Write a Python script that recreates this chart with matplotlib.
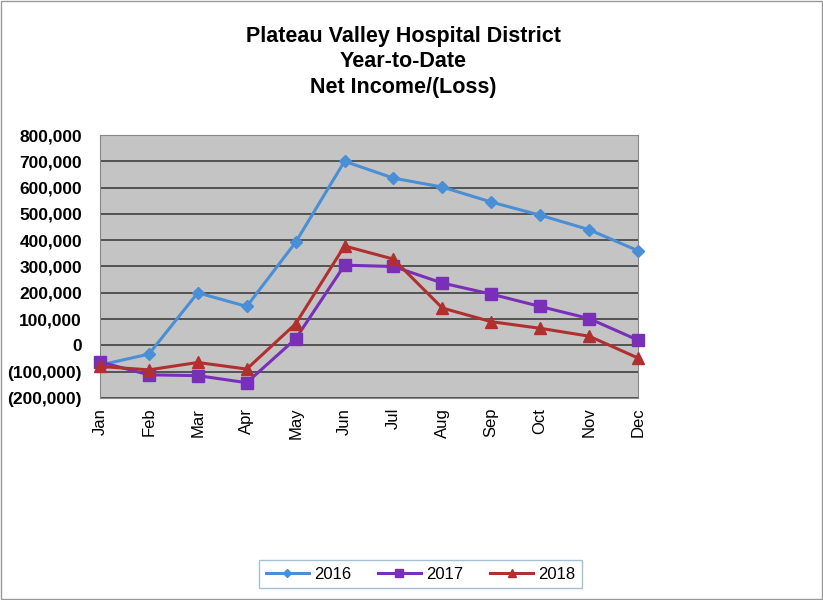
import matplotlib
matplotlib.use("Agg")
import matplotlib.pyplot as plt
from matplotlib.ticker import FuncFormatter

plt.rcParams["font.family"] = ["Liberation Sans", "DejaVu Sans"]

MONTHS = ["Jan", "Feb", "Mar", "Apr", "May", "Jun",
          "Jul", "Aug", "Sep", "Oct", "Nov", "Dec"]
YTD_2016 = [-75000, -33000, 200000, 148000, 392000, 700000,
            636000, 602000, 545000, 495000, 440000, 360000]
YTD_2017 = [-63000, -112000, -115000, -142000, 25000, 305000,
            300000, 237000, 195000, 148000, 102000, 20000]
YTD_2018 = [-80000, -93000, -65000, -90000, 82000, 378000,
            328000, 142000, 90000, 65000, 35000, -48000]
YEARS = ["2016", "2017", "2018"]

COLORS = {"2016": "#4a8fd6", "2017": "#7a2fb8", "2018": "#b03030"}
MARKERS = {"2016": "D", "2017": "s", "2018": "^"}
MSIZE = {"2016": 6, "2017": 8, "2018": 8}


def _fmt(v, pos):
    if v < 0:
        return "({:,.0f})".format(-v)
    return "{:,.0f}".format(v)


fig = plt.figure(figsize=(8.23, 6.0), dpi=100)
ax = fig.add_axes([0.1215, 0.3367, 0.6537, 0.4383])
ax.set_facecolor("#c4c4c4")

xs = list(range(len(MONTHS)))
for year, ys in zip(YEARS, [YTD_2016, YTD_2017, YTD_2018]):
    ax.plot(xs, ys, color=COLORS[year], marker=MARKERS[year],
            markersize=MSIZE[year], linewidth=2.2, label=year,
            clip_on=False, zorder=3)

ax.set_xlim(0, 11)
ax.set_ylim(-200000, 800000)
ax.set_yticks(range(-200000, 800001, 100000))
ax.yaxis.set_major_formatter(FuncFormatter(_fmt))
ax.grid(axis="y", color="#4a4a4a", linewidth=1.3)
ax.set_axisbelow(True)
ax.set_xticks(xs)
ax.set_xticklabels(MONTHS, rotation=90, fontsize=12)
for lab in ax.get_yticklabels():
    lab.set_fontweight("bold")
    lab.set_fontsize(12.5)
ax.tick_params(axis="y", length=0, pad=13)
ax.tick_params(axis="x", length=0, pad=7)
for side in ["top", "right", "bottom", "left"]:
    ax.spines[side].set_color("#888888")

fig.text(0.49, 0.897, "Plateau Valley Hospital District\nYear-to-Date\nNet Income/(Loss)",
         ha="center", va="center", fontsize=15.5, fontweight="bold",
         linespacing=1.27)

leg = fig.legend(loc="center", bbox_to_anchor=(0.511, 0.0433), ncol=3,
                 frameon=True, fancybox=False, fontsize=12,
                 handlelength=2.6, handletextpad=0.3, columnspacing=1.6,
                 markerscale=0.7)
leg.get_frame().set_edgecolor("#8fb0c8")

fig.patches.append(plt.Rectangle((0.001, 0.001), 0.998, 0.998,
                                 transform=fig.transFigure, fill=False,
                                 edgecolor="#999999", linewidth=1))

fig.savefig("out.png", dpi=100)
